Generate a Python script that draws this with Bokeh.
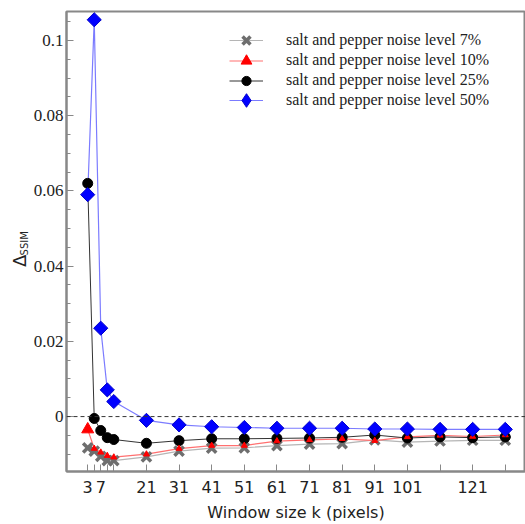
import math
from bokeh.plotting import figure
from bokeh.layouts import row
from bokeh.models import FixedTicker, Span, Legend, LegendItem
from bokeh.core.properties import value
from bokeh.embed import file_html
from bokeh.resources import INLINE

k = [3, 5, 7, 9, 11, 21, 31, 41, 51, 61, 71, 81, 91, 101, 111, 121, 131]
noise_7 = [-0.0083, -0.0092, -0.0106, -0.0117, -0.0117, -0.0107, -0.0092, -0.0084, -0.0083,
           -0.0077, -0.0073, -0.0072, -0.0062, -0.0068, -0.0065, -0.0063, -0.0063]
noise_10 = [-0.0034, -0.0085, -0.0095, -0.0104, -0.0108, -0.0100, -0.0085, -0.0077, -0.0077,
            -0.0065, -0.0062, -0.0059, -0.0064, -0.0054, -0.0050, -0.0053, -0.0049]
noise_25 = [0.062, -0.0005, -0.0037, -0.0056, -0.0061, -0.0071, -0.0064, -0.0059, -0.0059,
            -0.0058, -0.0057, -0.0055, -0.0049, -0.0057, -0.0054, -0.0056, -0.0054]
noise_50 = [0.059, 0.1055, 0.0235, 0.0071, 0.0040, -0.0010, -0.0022, -0.0027, -0.0029,
            -0.0031, -0.0031, -0.0031, -0.0033, -0.0033, -0.0034, -0.0034, -0.0034]

labels = ["salt and pepper noise level 7%", "salt and pepper noise level 10%",
          "salt and pepper noise level 25%", "salt and pepper noise level 50%"]

x_ticks = [3, 5, 7, 9, 11, 21, 31, 41, 51, 61, 71, 81, 91, 101, 111, 121, 131]
x_tick_text = ["3", "", "7", "", "", "21", "31", "41", "51", "61", "71", "81", "91", "101", "", "121", ""]
y_ticks = [0, 0.02, 0.04, 0.06, 0.08, 0.1]
y_tick_text = ["0", "0.02", "0.04", "0.06", "0.08", "0.1"]
y_minor = [-0.01, -0.005, 0.005, 0.01, 0.015, 0.025, 0.03, 0.035, 0.045, 0.05, 0.055,
           0.065, 0.07, 0.075, 0.085, 0.09, 0.095, 0.105]

serif = "Liberation Serif"
sans = "DejaVu Sans"

# narrow strip on the left that carries the y-axis title (Delta with subscript SSIM)
lab = figure(width=30, height=524, output_backend="svg", toolbar_location=None,
             x_range=(0, 30), y_range=(0, 524),
             min_border_left=0, min_border_right=0, min_border_top=0, min_border_bottom=0)
lab.axis.visible = False
lab.grid.visible = False
lab.outline_line_color = None
lab.text(x=[19], y=[240], text=["Δ"], angle=math.pi / 2,
         text_font=value(sans), text_font_size="18px", text_color="#222222",
         text_align="center", text_baseline="middle")
lab.text(x=[24], y=[260], text=["SSIM"], angle=math.pi / 2,
         text_font=value(sans), text_font_size="10px", text_color="#222222",
         text_align="center", text_baseline="middle")

p = figure(width=495, height=524, output_backend="svg", toolbar_location=None,
           x_range=(-3.5, 137.2), y_range=(-0.0146, 0.1077),
           min_border_left=35, min_border_right=0, min_border_top=11, min_border_bottom=50)
p.grid.visible = False
p.background_fill_color = "white"
p.outline_line_color = "#888888"
p.outline_line_width = 2

p.xaxis.ticker = FixedTicker(ticks=x_ticks)
p.xaxis.major_label_overrides = {t: s for t, s in zip(x_ticks, x_tick_text)}
p.yaxis.ticker = FixedTicker(ticks=y_ticks, minor_ticks=y_minor)
p.yaxis.major_label_overrides = {t: s for t, s in zip(y_ticks, y_tick_text)}

for ax in (p.xaxis[0], p.yaxis[0]):
    ax.axis_line_color = "#888888"
    ax.axis_line_width = 2
    ax.major_tick_line_color = "#888888"
    ax.minor_tick_line_color = "#888888"
    ax.major_tick_in = 7
    ax.major_tick_out = 0
    ax.minor_tick_in = 4
    ax.minor_tick_out = 0
    ax.major_label_text_color = "#222222"

p.xaxis.major_label_text_font = sans
p.xaxis.major_label_text_font_size = "16px"
p.xaxis.major_label_standoff = 9
p.xaxis.axis_label = "Window size k (pixels)"
p.xaxis.axis_label_text_font = sans
p.xaxis.axis_label_text_font_size = "16px"
p.xaxis.axis_label_text_font_style = "normal"
p.xaxis.axis_label_standoff = 7
p.xaxis.axis_label_text_color = "#222222"

p.yaxis.major_label_text_font = serif
p.yaxis.major_label_text_font_size = "17px"
p.yaxis.major_label_standoff = 3

p.add_layout(Span(location=0, dimension="width", line_color="#333333",
                  line_dash="4 3", line_width=1))

# lines
l7 = p.line(k, noise_7, line_color="#b5b5b5", line_width=1.2)
l10 = p.line(k, noise_10, line_color="#ff7070", line_width=1.2)
l25 = p.line(k, noise_25, line_color="#333333", line_width=1)
l50 = p.line(k, noise_50, line_color="#7b7bff", line_width=1.2)

# markers
m7 = p.scatter(k, noise_7, marker="x", size=13, line_color="#6e6e6e", line_width=3.5)
m25 = p.scatter(k, noise_25, marker="circle", size=10, fill_color="black", line_color="black")
m10 = p.scatter(k[:1], noise_10[:1], marker="triangle", size=12, fill_color="red",
                line_color="red")
p.scatter(k[1:], noise_10[1:], marker="triangle", size=6, fill_color="red", line_color="red")
p.scatter(k, noise_50, marker="square", angle=math.pi / 4, size=10,
          fill_color="#0000ff", line_color="#0000cc")
# diamond shape used for the legend sample only
m50_key = p.scatter(k, noise_50, marker="diamond", size=16, fill_color="#0000ff",
                    line_color="#0000cc", visible=False)

# one legend per row so each marker gets its own size
rows = [(labels[0], [l7, m7], 28, 43.3), (labels[1], [l10, m10], 27, 63.3),
        (labels[2], [l25, m25], 23, 83.3), (labels[3], [l50, m50_key], 42, 103.3)]
frame_bottom = 474
for text, rends, gh, cy in rows:
    leg = Legend(items=[LegendItem(label=text, renderers=rends)],
                 location=(163, frame_bottom - (cy + gh / 2)))
    leg.border_line_color = None
    leg.background_fill_alpha = 0
    leg.label_text_font = serif
    leg.label_text_font_size = "16px"
    leg.label_text_color = "#222222"
    leg.glyph_width = 34
    leg.glyph_height = gh
    leg.label_height = gh
    leg.label_standoff = 23
    leg.padding = 0
    leg.margin = 0
    leg.spacing = 0
    p.add_layout(leg)

layout = row(lab, p, spacing=0)
open("out.html", "w").write(file_html(layout, INLINE))
